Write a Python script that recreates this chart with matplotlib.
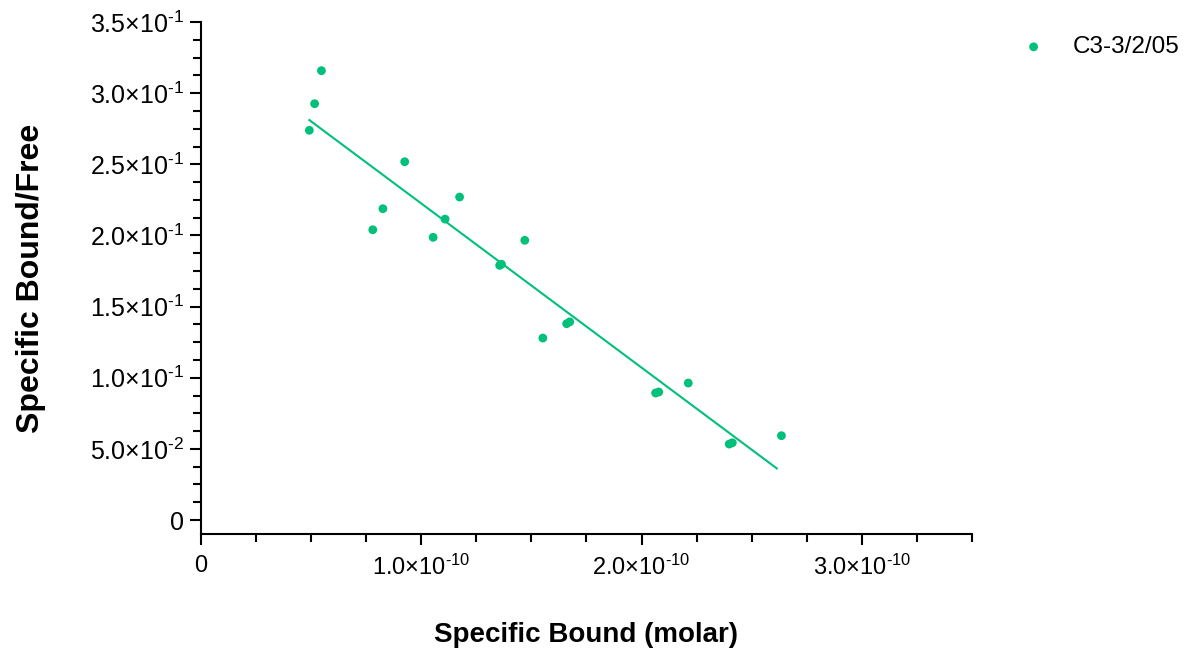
import numpy as np
import matplotlib
matplotlib.use('Agg')
import matplotlib.pyplot as plt
from matplotlib.ticker import FixedLocator, MultipleLocator

plt.rcParams['font.family'] = ['Liberation Sans', 'DejaVu Sans']
plt.rcParams['mathtext.fontset'] = 'custom'
plt.rcParams['mathtext.rm'] = 'Liberation Sans'
plt.rcParams['mathtext.it'] = 'Liberation Sans'

# Scatchard data (bound in molar, bound/free)
bound = [0.492e-10, 0.516e-10, 0.547e-10, 0.780e-10, 0.826e-10, 0.925e-10,
         1.054e-10, 1.108e-10, 1.174e-10, 1.356e-10, 1.364e-10, 1.470e-10,
         1.552e-10, 1.660e-10, 1.674e-10, 2.064e-10, 2.078e-10, 2.212e-10,
         2.398e-10, 2.412e-10, 2.635e-10]
bound_free = [0.2739, 0.2926, 0.3158, 0.2040, 0.2188, 0.2518,
              0.1987, 0.2115, 0.2270, 0.1790, 0.1798, 0.1966,
              0.1279, 0.1380, 0.1393, 0.0893, 0.0900, 0.0963,
              0.0534, 0.0543, 0.0593]

# linear fit line ends
fit_x = [0.492e-10, 2.614e-10]
fit_y = [0.2811, 0.0363]

xticks = [0, 1e-10, 2e-10, 3e-10]
xtick_labels = ['0', '1.0×10$^{‐10}$', '2.0×10$^{‐10}$', '3.0×10$^{‐10}$']
yticks = [0, 0.05, 0.10, 0.15, 0.20, 0.25, 0.30, 0.35]
ytick_labels = ['0', '5.0×10$^{‐2}$', '1.0×10$^{‐1}$', '1.5×10$^{‐1}$',
                '2.0×10$^{‐1}$', '2.5×10$^{‐1}$', '3.0×10$^{‐1}$', '3.5×10$^{‐1}$']

green = '#00c07a'

fig = plt.figure(figsize=(11.89, 6.51), dpi=100)
ax = fig.add_axes([0.169, 0.1797, 0.6485, 0.7865])

ax.scatter(bound, bound_free, s=40, color=green, edgecolors='none', label='C3-3/2/05', zorder=3)
ax.plot(fit_x, fit_y, color=green, linewidth=1.5, zorder=2)

ax.set_xlim(0, 3.5e-10)
ax.set_ylim(-0.0098, 0.35)

ax.spines['top'].set_visible(False)
ax.spines['right'].set_visible(False)
ax.spines['left'].set_linewidth(1.5)
ax.spines['bottom'].set_linewidth(1.5)

ax.xaxis.set_major_locator(FixedLocator(xticks))
ax.set_xticklabels(xtick_labels)
ax.xaxis.set_minor_locator(MultipleLocator(0.25e-10))
ax.yaxis.set_major_locator(FixedLocator(yticks))
ax.set_yticklabels(ytick_labels)
ax.yaxis.set_minor_locator(FixedLocator(np.arange(0.0125, 0.35, 0.0125)))

ax.tick_params(which='major', length=8, width=1.5, direction='out')
ax.tick_params(which='minor', length=5.5, width=1.5, direction='out')
ax.tick_params(axis='x', which='major', pad=7, labelsize=17)
ax.tick_params(axis='y', which='major', pad=4, labelsize=18)

ax.set_xlabel('Specific Bound (molar)', fontsize=20, fontweight='bold', labelpad=30)
ax.set_ylabel('Specific Bound/Free', fontsize=23, fontweight='bold', labelpad=32)

ax.legend(loc='upper left', bbox_to_anchor=(1.02, 1.015), frameon=False, fontsize=17.5,
          handletextpad=0.6, markerscale=1.0)

fig.savefig('out.png', dpi=100)
